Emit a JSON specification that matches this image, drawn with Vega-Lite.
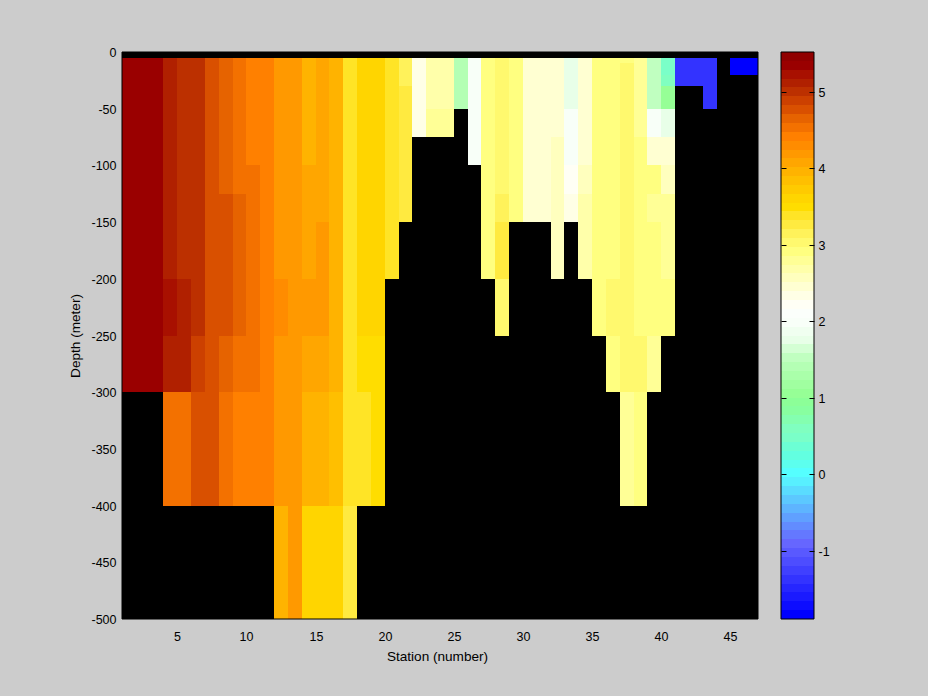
{"$schema":"https://vega.github.io/schema/vega-lite/v6.json","background":"#cccccc","padding":{"left":68,"top":46,"right":98,"bottom":34},"spacing":21,
"config":{"font":"Liberation Sans","view":{"fill":"#000000","stroke":null},"axis":{"labelFont":"Liberation Sans","titleFont":"Liberation Sans","labelFontSize":12.5,"titleFontSize":13.6,"titleFontWeight":"normal","labelColor":"#000000","titleColor":"#000000","grid":false}},
"datasets":{"cells":[
{"s":1,"e":2,"top":-5,"bottom":-300,"v":5.35},{"s":2,"e":3,"top":-5,"bottom":-300,"v":5.35},{"s":3,"e":4,"top":-5,"bottom":-300,"v":5.35},
{"s":4,"e":5,"top":-5,"bottom":-200,"v":5.11},{"s":4,"e":5,"top":-200,"bottom":-250,"v":5.23},{"s":4,"e":5,"top":-250,"bottom":-300,"v":5.11},{"s":4,"e":5,"top":-300,"bottom":-400,"v":4.54},
{"s":5,"e":6,"top":-5,"bottom":-200,"v":5.0},{"s":5,"e":6,"top":-200,"bottom":-300,"v":5.11},{"s":5,"e":6,"top":-300,"bottom":-400,"v":4.54},
{"s":6,"e":7,"top":-5,"bottom":-250,"v":5.0},{"s":6,"e":7,"top":-250,"bottom":-300,"v":4.88},{"s":6,"e":7,"top":-300,"bottom":-400,"v":4.77},
{"s":7,"e":8,"top":-5,"bottom":-400,"v":4.77},
{"s":8,"e":9,"top":-5,"bottom":-125,"v":4.65},{"s":8,"e":9,"top":-125,"bottom":-250,"v":4.77},{"s":8,"e":9,"top":-250,"bottom":-300,"v":4.65},{"s":8,"e":9,"top":-300,"bottom":-400,"v":4.54},
{"s":9,"e":10,"top":-5,"bottom":-125,"v":4.54},{"s":9,"e":10,"top":-125,"bottom":-250,"v":4.65},{"s":9,"e":10,"top":-250,"bottom":-300,"v":4.54},{"s":9,"e":10,"top":-300,"bottom":-400,"v":4.42},
{"s":10,"e":11,"top":-5,"bottom":-100,"v":4.42},{"s":10,"e":11,"top":-100,"bottom":-300,"v":4.54},{"s":10,"e":11,"top":-300,"bottom":-400,"v":4.42},
{"s":11,"e":12,"top":-5,"bottom":-400,"v":4.42},
{"s":12,"e":13,"top":-5,"bottom":-200,"v":4.19},{"s":12,"e":13,"top":-200,"bottom":-250,"v":4.3},{"s":12,"e":13,"top":-250,"bottom":-400,"v":4.19},{"s":12,"e":13,"top":-400,"bottom":-500,"v":3.96},
{"s":13,"e":14,"top":-5,"bottom":-500,"v":4.19},
{"s":14,"e":15,"top":-5,"bottom":-100,"v":3.96},{"s":14,"e":15,"top":-100,"bottom":-200,"v":4.07},{"s":14,"e":15,"top":-200,"bottom":-250,"v":4.19},{"s":14,"e":15,"top":-250,"bottom":-300,"v":4.07},{"s":14,"e":15,"top":-300,"bottom":-400,"v":3.96},{"s":14,"e":15,"top":-400,"bottom":-500,"v":3.61},
{"s":15,"e":16,"top":-5,"bottom":-150,"v":4.07},{"s":15,"e":16,"top":-150,"bottom":-250,"v":4.19},{"s":15,"e":16,"top":-250,"bottom":-300,"v":4.07},{"s":15,"e":16,"top":-300,"bottom":-400,"v":3.96},{"s":15,"e":16,"top":-400,"bottom":-500,"v":3.61},
{"s":16,"e":17,"top":-5,"bottom":-300,"v":3.96},{"s":16,"e":17,"top":-300,"bottom":-400,"v":3.84},{"s":16,"e":17,"top":-400,"bottom":-500,"v":3.61},
{"s":17,"e":18,"top":-5,"bottom":-400,"v":3.38},{"s":17,"e":18,"top":-400,"bottom":-500,"v":3.26},
{"s":18,"e":19,"top":-5,"bottom":-250,"v":3.61},{"s":18,"e":19,"top":-250,"bottom":-300,"v":3.49},{"s":18,"e":19,"top":-300,"bottom":-400,"v":3.38},
{"s":19,"e":20,"top":-5,"bottom":-250,"v":3.61},{"s":19,"e":20,"top":-250,"bottom":-400,"v":3.49},
{"s":20,"e":21,"top":-5,"bottom":-200,"v":3.38},
{"s":21,"e":22,"top":-5,"bottom":-30,"v":3.15},{"s":21,"e":22,"top":-30,"bottom":-150,"v":3.26},
{"s":22,"e":23,"top":-5,"bottom":-75,"v":2.33},
{"s":23,"e":24,"top":-5,"bottom":-50,"v":2.68},{"s":23,"e":24,"top":-50,"bottom":-75,"v":2.8},
{"s":24,"e":25,"top":-5,"bottom":-50,"v":2.68},{"s":24,"e":25,"top":-50,"bottom":-75,"v":2.8},
{"s":25,"e":26,"top":-5,"bottom":-50,"v":1.41},
{"s":26,"e":27,"top":-5,"bottom":-100,"v":1.99},
{"s":27,"e":28,"top":-5,"bottom":-200,"v":2.91},
{"s":28,"e":29,"top":-5,"bottom":-125,"v":3.03},{"s":28,"e":29,"top":-125,"bottom":-150,"v":3.15},{"s":28,"e":29,"top":-150,"bottom":-200,"v":3.26},{"s":28,"e":29,"top":-200,"bottom":-250,"v":3.03},
{"s":29,"e":30,"top":-5,"bottom":-150,"v":2.91},
{"s":30,"e":31,"top":-5,"bottom":-150,"v":2.45},{"s":31,"e":32,"top":-5,"bottom":-150,"v":2.45},
{"s":32,"e":33,"top":-5,"bottom":-75,"v":2.45},{"s":32,"e":33,"top":-75,"bottom":-200,"v":2.57},
{"s":33,"e":34,"top":-5,"bottom":-50,"v":1.76},{"s":33,"e":34,"top":-50,"bottom":-100,"v":1.99},{"s":33,"e":34,"top":-100,"bottom":-125,"v":2.22},{"s":33,"e":34,"top":-125,"bottom":-150,"v":2.33},
{"s":34,"e":35,"top":-5,"bottom":-100,"v":2.45},{"s":34,"e":35,"top":-100,"bottom":-125,"v":2.57},{"s":34,"e":35,"top":-125,"bottom":-200,"v":2.68},
{"s":35,"e":36,"top":-5,"bottom":-250,"v":2.91},
{"s":36,"e":37,"top":-5,"bottom":-200,"v":2.91},{"s":36,"e":37,"top":-200,"bottom":-250,"v":3.03},{"s":36,"e":37,"top":-250,"bottom":-300,"v":2.91},
{"s":37,"e":38,"top":-5,"bottom":-10,"v":2.91},{"s":37,"e":38,"top":-10,"bottom":-300,"v":3.03},{"s":37,"e":38,"top":-300,"bottom":-400,"v":2.8},
{"s":38,"e":39,"top":-5,"bottom":-75,"v":2.8},{"s":38,"e":39,"top":-75,"bottom":-250,"v":2.91},{"s":38,"e":39,"top":-250,"bottom":-300,"v":3.03},{"s":38,"e":39,"top":-300,"bottom":-400,"v":2.91},
{"s":39,"e":40,"top":-5,"bottom":-50,"v":1.52},{"s":39,"e":40,"top":-50,"bottom":-75,"v":1.99},{"s":39,"e":40,"top":-75,"bottom":-100,"v":2.45},{"s":39,"e":40,"top":-100,"bottom":-125,"v":2.91},{"s":39,"e":40,"top":-125,"bottom":-150,"v":2.8},{"s":39,"e":40,"top":-150,"bottom":-250,"v":2.91},{"s":39,"e":40,"top":-250,"bottom":-300,"v":2.8},
{"s":40,"e":41,"top":-5,"bottom":-20,"v":0.48},{"s":40,"e":41,"top":-20,"bottom":-30,"v":0.6},{"s":40,"e":41,"top":-30,"bottom":-50,"v":1.06},{"s":40,"e":41,"top":-50,"bottom":-75,"v":1.76},{"s":40,"e":41,"top":-75,"bottom":-100,"v":2.45},{"s":40,"e":41,"top":-100,"bottom":-125,"v":2.57},{"s":40,"e":41,"top":-125,"bottom":-200,"v":2.8},{"s":40,"e":41,"top":-200,"bottom":-250,"v":2.91},
{"s":41,"e":42,"top":-5,"bottom":-30,"v":-1.37},{"s":42,"e":43,"top":-5,"bottom":-30,"v":-1.37},{"s":43,"e":44,"top":-5,"bottom":-50,"v":-1.37},
{"s":45,"e":46,"top":-5,"bottom":-20,"v":-1.84},{"s":46,"e":47,"top":-5,"bottom":-20,"v":-1.84}
],
"bar":[
{"lo":-1.894,"hi":-1.778,"v":-1.836},{"lo":-1.778,"hi":-1.662,"v":-1.72},{"lo":-1.662,"hi":-1.546,"v":-1.604},{"lo":-1.546,"hi":-1.431,"v":-1.488},{"lo":-1.431,"hi":-1.315,"v":-1.373},{"lo":-1.315,"hi":-1.199,"v":-1.257},{"lo":-1.199,"hi":-1.083,"v":-1.141},{"lo":-1.083,"hi":-0.967,"v":-1.025},{"lo":-0.967,"hi":-0.851,"v":-0.909},{"lo":-0.851,"hi":-0.736,"v":-0.793},{"lo":-0.736,"hi":-0.62,"v":-0.678},{"lo":-0.62,"hi":-0.504,"v":-0.562},{"lo":-0.504,"hi":-0.388,"v":-0.446},{"lo":-0.388,"hi":-0.272,"v":-0.33},{"lo":-0.272,"hi":-0.156,"v":-0.214},{"lo":-0.156,"hi":-0.041,"v":-0.098},
{"lo":-0.041,"hi":0.075,"v":0.017},{"lo":0.075,"hi":0.191,"v":0.133},{"lo":0.191,"hi":0.307,"v":0.249},{"lo":0.307,"hi":0.423,"v":0.365},{"lo":0.423,"hi":0.539,"v":0.481},{"lo":0.539,"hi":0.654,"v":0.597},{"lo":0.654,"hi":0.77,"v":0.712},{"lo":0.77,"hi":0.886,"v":0.828},{"lo":0.886,"hi":1.002,"v":0.944},{"lo":1.002,"hi":1.118,"v":1.06},{"lo":1.118,"hi":1.234,"v":1.176},{"lo":1.234,"hi":1.35,"v":1.292},{"lo":1.35,"hi":1.465,"v":1.408},{"lo":1.465,"hi":1.581,"v":1.523},{"lo":1.581,"hi":1.697,"v":1.639},{"lo":1.697,"hi":1.813,"v":1.755},
{"lo":1.813,"hi":1.929,"v":1.871},{"lo":1.929,"hi":2.045,"v":1.987},{"lo":2.045,"hi":2.16,"v":2.103},{"lo":2.16,"hi":2.276,"v":2.218},{"lo":2.276,"hi":2.392,"v":2.334},{"lo":2.392,"hi":2.508,"v":2.45},{"lo":2.508,"hi":2.624,"v":2.566},{"lo":2.624,"hi":2.74,"v":2.682},{"lo":2.74,"hi":2.855,"v":2.798},{"lo":2.855,"hi":2.971,"v":2.913},{"lo":2.971,"hi":3.087,"v":3.029},{"lo":3.087,"hi":3.203,"v":3.145},{"lo":3.203,"hi":3.319,"v":3.261},{"lo":3.319,"hi":3.435,"v":3.377},{"lo":3.435,"hi":3.55,"v":3.493},{"lo":3.55,"hi":3.666,"v":3.608},
{"lo":3.666,"hi":3.782,"v":3.724},{"lo":3.782,"hi":3.898,"v":3.84},{"lo":3.898,"hi":4.014,"v":3.956},{"lo":4.014,"hi":4.13,"v":4.072},{"lo":4.13,"hi":4.245,"v":4.188},{"lo":4.245,"hi":4.361,"v":4.303},{"lo":4.361,"hi":4.477,"v":4.419},{"lo":4.477,"hi":4.593,"v":4.535},{"lo":4.593,"hi":4.709,"v":4.651},{"lo":4.709,"hi":4.825,"v":4.767},{"lo":4.825,"hi":4.94,"v":4.883},{"lo":4.94,"hi":5.056,"v":4.998},{"lo":5.056,"hi":5.172,"v":5.114},{"lo":5.172,"hi":5.288,"v":5.23},{"lo":5.288,"hi":5.404,"v":5.346},{"lo":5.404,"hi":5.52,"v":5.462}
]},
"hconcat":[
{"width":636,"height":567,"layer":[
{"data":{"name":"cells"},"mark":{"type":"rect","stroke":null},
"encoding":{
"x":{"field":"s","type":"quantitative","scale":{"domain":[1,47],"nice":false,"zero":false,"round":true},"axis":{"title":"Station (number)","values":[5,10,15,20,25,30,35,40,45],"ticks":false,"domain":false,"labelPadding":11,"titlePadding":7,"titleX":315}},
"x2":{"field":"e"},
"y":{"field":"top","type":"quantitative","scale":{"domain":[-500,0],"nice":false,"zero":false,"round":true},"axis":{"title":"Depth (meter)","values":[0,-50,-100,-150,-200,-250,-300,-350,-400,-450,-500],"ticks":false,"domain":false,"labelPadding":6,"titlePadding":8,"labelExpr":"'' + datum.value"}},
"y2":{"field":"bottom"},
"color":{"field":"v","type":"quantitative","legend":null,"scale":{"type":"quantize","domain":[-1.894,5.52],"range":["#0000ff","#0d0dff","#1a1aff","#2626ff","#3333ff","#4040ff","#4d4dff","#5959ff","#6666ff","#6478ff","#628cff","#60a0ff","#5eb4ff","#5cc8ff","#5adcff","#58f0ff","#55ffff","#5cffee","#62ffe0","#6cffd4","#7affc8","#80ffc0","#84ffb0","#88ffa0","#8cff98","#96ff96","#a0ffa0","#aaffaa","#b4ffb4","#c0ffc0","#d4ffd4","#e8ffe8","#f0fff0","#f8fff8","#fbfffb","#fffff5","#ffffe6","#ffffd2","#ffffbe","#ffffaa","#ffff96","#ffff80","#fff96e","#fff25a","#ffea40","#ffe426","#ffdd00","#ffd500","#ffca00","#ffbf00","#ffb300","#ffa600","#ff9900","#ff8c00","#ff8000","#f37100","#e66300","#d95000","#cc4000","#bc3000","#b02000","#a81000","#9a0000","#900000"]}}
}},
{"data":{"values":[{"s":1,"e":47,"top":0,"bottom":-500}]},"mark":{"type":"rect","fill":null,"stroke":"#000000","strokeWidth":1},
"encoding":{"x":{"field":"s","type":"quantitative"},"x2":{"field":"e"},"y":{"field":"top","type":"quantitative"},"y2":{"field":"bottom"}}}
]},
{"width":33,"height":567,"resolve":{"axis":{"y":"independent"}},"layer":[
{"data":{"name":"bar"},"mark":{"type":"rect","stroke":null},"encoding":{
"x":{"datum":0,"type":"quantitative","scale":{"domain":[0,1]},"axis":null},"x2":{"datum":1},
"y":{"field":"lo","type":"quantitative","scale":{"domain":[-1.894,5.52],"nice":false,"zero":false,"round":true},"axis":{"orient":"right","title":null,"values":[-1,0,1,2,3,4,5],"tickSize":-5,"tickColor":"#000000","domain":false,"labelPadding":9,"zindex":1,"labelExpr":"'' + datum.value"}},
"y2":{"field":"hi"},
"color":{"field":"v","type":"quantitative","legend":null,"scale":{"type":"quantize","domain":[-1.894,5.52],"range":["#0000ff","#0d0dff","#1a1aff","#2626ff","#3333ff","#4040ff","#4d4dff","#5959ff","#6666ff","#6478ff","#628cff","#60a0ff","#5eb4ff","#5cc8ff","#5adcff","#58f0ff","#55ffff","#5cffee","#62ffe0","#6cffd4","#7affc8","#80ffc0","#84ffb0","#88ffa0","#8cff98","#96ff96","#a0ffa0","#aaffaa","#b4ffb4","#c0ffc0","#d4ffd4","#e8ffe8","#f0fff0","#f8fff8","#fbfffb","#fffff5","#ffffe6","#ffffd2","#ffffbe","#ffffaa","#ffff96","#ffff80","#fff96e","#fff25a","#ffea40","#ffe426","#ffdd00","#ffd500","#ffca00","#ffbf00","#ffb300","#ffa600","#ff9900","#ff8c00","#ff8000","#f37100","#e66300","#d95000","#cc4000","#bc3000","#b02000","#a81000","#9a0000","#900000"]}}}},
{"data":{"values":[{"lo":-1.894,"hi":5.52}]},"mark":{"type":"rect","fill":null,"stroke":"#000000","strokeWidth":1},"encoding":{
"x":{"datum":0,"type":"quantitative","scale":{"domain":[0,1]},"axis":null},"x2":{"datum":1},
"y":{"field":"lo","type":"quantitative","scale":{"domain":[-1.894,5.52],"nice":false,"zero":false,"round":true},"axis":{"orient":"left","title":null,"values":[-1,0,1,2,3,4,5],"tickSize":-5,"tickColor":"#000000","domain":false,"labels":false,"zindex":1}},
"y2":{"field":"hi"}}}
]}
],"resolve":{"scale":{"color":"independent"}}}
